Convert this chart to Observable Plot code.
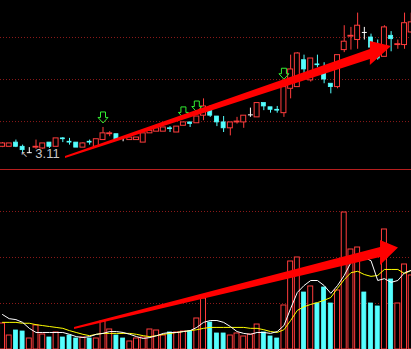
<!DOCTYPE html>
<html><head><meta charset="utf-8">
<script src="https://cdn.jsdelivr.net/npm/d3@7"></script>
<script src="https://cdn.jsdelivr.net/npm/@observablehq/plot@0.6"></script>
<style>
html,body{margin:0;padding:0;background:#000;overflow:hidden;}
#chart svg{display:block;}
</style></head><body><div id="chart"></div>
<script>
// ---- daily prices (index = trading day) ----
const opens  = [3.19,3.19,3.24,3.19,3.12,3.18,3.17,3.24,3.19,3.29, 3.25,3.24,3.18,3.25,3.19,3.27,3.34,3.34,3.30,3.27, 3.27,3.24,3.35,3.37,3.37,3.41,3.36,3.44,3.48,3.47, 3.56,3.62,3.55,3.48,3.41,3.48,3.48,3.57,3.54,3.71, 3.66,3.63,3.59,3.88,3.90,4.22,3.98,4.17,4.06,3.94, 3.90,4.34,4.50,4.46,4.55,4.49,4.31,4.26,4.51,4.40, 4.40,4.55];
const highs  = [3.24,3.23,3.27,3.21,3.18,3.27,3.23,3.24,3.29,3.30, 3.29,3.24,3.24,3.27,3.28,3.42,3.37,3.34,3.31,3.30, 3.30,3.35,3.38,3.41,3.42,3.43,3.43,3.48,3.48,3.55, 3.76,3.68,3.55,3.55,3.48,3.54,3.56,3.65,3.71,3.71, 3.66,3.67,3.94,4.28,4.31,4.28,4.24,4.28,4.19,3.94, 4.28,4.63,4.61,4.78,4.61,4.53,4.46,4.63,4.56,4.46, 4.78,4.78];
const lows   = [3.18,3.19,3.18,3.12,3.11,3.16,3.16,3.17,3.19,3.24, 3.21,3.18,3.18,3.21,3.19,3.27,3.31,3.28,3.25,3.27, 3.27,3.24,3.35,3.37,3.37,3.36,3.36,3.44,3.42,3.47, 3.50,3.54,3.43,3.36,3.32,3.46,3.41,3.54,3.54,3.62, 3.59,3.59,3.54,3.76,3.90,4.06,3.96,4.13,3.94,3.82, 3.88,4.31,4.34,4.35,4.46,4.37,4.22,4.26,4.32,4.35, 4.35,4.54];
const closes = [3.23,3.23,3.19,3.15,3.12,3.19,3.23,3.19,3.29,3.28, 3.24,3.18,3.23,3.24,3.28,3.35,3.35,3.28,3.30,3.30, 3.30,3.35,3.38,3.41,3.42,3.40,3.43,3.48,3.46,3.55, 3.67,3.56,3.48,3.41,3.48,3.49,3.56,3.57,3.71,3.67, 3.63,3.62,3.90,4.11,4.30,4.11,4.24,4.16,3.99,3.90, 4.28,4.44,4.51,4.63,4.55,4.37,4.24,4.61,4.47,4.41, 4.66,4.67];

// ---- volume and its moving averages ----
const volumes = [5650,3040,4130,3910,2390,5220,3260,2610,3700,2610, 3040,2390,2610,2390,2390,6090,4350,3040,2390,1740, 2390,2610,4350,4130,3040,3700,3700,3910,3910,6740, 11090,5870,3480,3480,3040,3480,2830,3260,5430,3700, 2830,2390,9570,19130,20000,12390,13700,10000,13480,10000, 12830,29780,21740,22170,12390,10000,9350,26090,15220,10000, 18480,16090];
const volumeSide = "rrccrrrcrc" + "ccrcrrrccr" + "rrrrrcrrcr" + "rcccrrrrrc" + "ccrrrcrccc" + "rrrrcccrcr" + "rr";
const ma5  = [7600,6700,6500,5900,4600,3700,3700,3700,3700,3700, 3300,2800,2600,2800,3300,3500,3900,3900,3700,3300, 2800,2400,2600,3000,3500,3700,3700,3900,4100,4800, 5900,6300,6300,5900,5000,3900,3500,3300,3700,3700, 3500,3900,5200,8900,12400,13900,15000,15000,13900,12200, 13900,16100,18900,20000,20000,19300,15000,15400,14600,15000, 16700,17200];
const ma10 = [5900,5900,5900,5700,5700,5400,5200,5000,4800,4600, 4100,3700,3300,3000,3300,3500,3500,3500,3500,3500, 3300,3000,2800,3000,3300,3500,3700,3900,4100,4300, 4600,4800,4800,4800,4800,4800,4800,4600,4600,4300, 3900,3700,4300,6300,8500,9300,9800,10200,10700,11300, 13300,15200,16700,17000,16300,15900,16100,17400,17400,17400, 16500,17200];

// ---- annotations ----
const signalDays = [15, 27, 29, 42];
const priceGrid = [3.49, 3.99, 4.49];
const volumeGrid = [10000, 20000, 30000];
const lowLabel = [{day: 4, price: 3.11, text: "3.11"}];
// trend arrows: shaft start, head base (shaft), head base (wings), tip
const trendPriceX  = [9.4, 54.9, 54.9, 58.06];
const trendPriceLo = [3.050, 4.229, 4.158, 4.384];
const trendPriceHi = [3.074, 4.348, 4.443, 4.384];
const trendVolX  = [10.75, 56.42, 56.42, 59.1];
const trendVolLo = [4348, 20000, 18261, 22065];
const trendVolHi = [4783, 22174, 23696, 22065];

const priceDomain = [2.92, 4.93];
const volDomain = [0, 38913];
const dayDomain = [-0.3, 61.04];

const RED = "#ff3c3c", CYAN = "#54ffff", GRID = "#8c1a1a", SEP = "#b81e1e", ARROW = "#ff0000";
const HW = 0.37;

const candles = opens.map((o, i) => ({i, o, h: highs[i], l: lows[i], c: closes[i]}));
const upC = candles.filter(d => d.c > d.o);
const downC = candles.filter(d => d.c < d.o);
const dojiC = candles.filter(d => d.c === d.o);
const vols = volumes.map((v, i) => ({i, v, side: volumeSide[i], m5: ma5[i], m10: ma10[i]}));
const toArea = (xs, lo, hi) => xs.map((x, k) => ({x, lo: lo[k], hi: hi[k]}));

const downArrow = {
  draw(ctx) {
    ctx.moveTo(-2.5, -5.5); ctx.lineTo(2.5, -5.5); ctx.lineTo(2.5, 0);
    ctx.lineTo(5, 0); ctx.lineTo(0, 5.5); ctx.lineTo(-5, 0); ctx.lineTo(-2.5, 0);
    ctx.closePath();
  }
};

const wickColor = d => d.c > d.o ? RED : d.c < d.o ? CYAN : "#ffffff";

const priceChart = Plot.plot({
  width: 411, height: 170,
  marginTop: 0, marginBottom: 1, marginLeft: 0, marginRight: 0,
  style: {background: "#000", color: "#fff"},
  x: {type: "linear", domain: dayDomain, axis: null},
  y: {domain: priceDomain, axis: null},
  marks: [
    Plot.ruleY(priceGrid, {stroke: GRID, strokeDasharray: "1,2"}),
    Plot.ruleY([priceDomain[0]], {stroke: SEP}),
    Plot.ruleX(candles, {x: "i", y1: "h", y2: d => Math.max(d.o, d.c), stroke: wickColor}),
    Plot.ruleX(candles, {x: "i", y1: d => Math.min(d.o, d.c), y2: "l", stroke: wickColor}),
    Plot.rect(upC, {x1: d => d.i - HW, x2: d => d.i + HW, y1: "o", y2: "c", fill: "#000", stroke: RED}),
    Plot.rect(downC, {x1: d => d.i - HW + 0.07, x2: d => d.i + HW - 0.07, y1: "o", y2: "c", fill: CYAN, stroke: CYAN, strokeWidth: 0.8}),
    Plot.link(dojiC, {x1: d => d.i - HW, x2: d => d.i + HW, y1: "o", y2: "c", stroke: "#fff"}),
    Plot.dot(signalDays.map(i => candles[i]), {x: "i", y: "h", dy: -10, symbol: downArrow, r: 5, stroke: "#33ee33", fill: "none", strokeWidth: 1}),
    Plot.text(lowLabel, {x: "day", y: "price", text: "text", dx: 6, textAnchor: "start", fill: "#c8c8c8", fontSize: 13, fontFamily: "Liberation Sans, Arial, sans-serif"}),
    Plot.text(lowLabel, {x: "day", y: "price", text: () => "\u2196", dx: -5, dy: 1, fill: "#c8c8c8", fontSize: 9, fontFamily: "DejaVu Sans"}),
    Plot.areaY(toArea(trendPriceX, trendPriceLo, trendPriceHi), {x: "x", y1: "lo", y2: "hi", fill: ARROW, curve: "linear"})
  ]
});

const volumeChart = Plot.plot({
  width: 411, height: 179,
  marginTop: 0, marginBottom: 0, marginLeft: 0, marginRight: 0,
  style: {background: "#000", color: "#fff"},
  x: {type: "linear", domain: dayDomain, axis: null},
  y: {domain: volDomain, axis: null},
  marks: [
    Plot.ruleY(volumeGrid, {stroke: GRID, strokeDasharray: "1,2"}),
    Plot.rect(vols.filter(d => d.side === "r"), {x1: d => d.i - HW, x2: d => d.i + HW, y1: () => 0, y2: "v", fill: "#000", stroke: RED}),
    Plot.rect(vols.filter(d => d.side === "c"), {x1: d => d.i - HW + 0.07, x2: d => d.i + HW - 0.07, y1: () => 0, y2: "v", fill: CYAN, stroke: CYAN, strokeWidth: 0.8}),
    Plot.line(vols, {x: "i", y: "m10", stroke: "#ffff00", strokeWidth: 1}),
    Plot.line(vols, {x: "i", y: "m5", stroke: "#ffffff", strokeWidth: 1}),
    Plot.areaY(toArea(trendVolX, trendVolLo, trendVolHi), {x: "x", y1: "lo", y2: "hi", fill: ARROW, curve: "linear"})
  ]
});

const root = document.getElementById("chart");
root.appendChild(priceChart);
root.appendChild(volumeChart);
</script>
</body></html>
